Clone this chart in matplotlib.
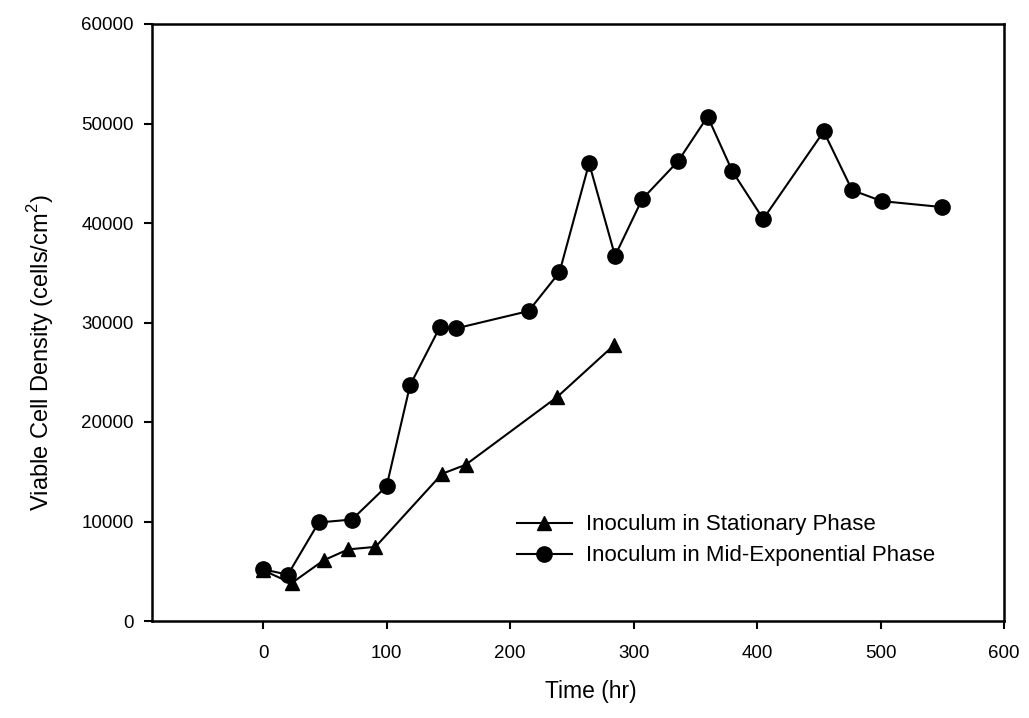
import matplotlib
matplotlib.use("Agg")
import matplotlib.pyplot as plt

plt.rcParams['font.family'] = ['Liberation Sans', 'DejaVu Sans']
plt.rcParams['mathtext.fontset'] = 'custom'
plt.rcParams['mathtext.rm'] = 'Liberation Sans'

# Stationary-phase inoculum
time_stationary = [0, 23, 49, 69, 91, 145, 164, 238, 284]
density_stationary = [5100, 3800, 6100, 7200, 7450, 14800, 15700, 22500, 27700]

# Mid-exponential-phase inoculum
time_midexp = [0, 20, 45, 72, 100, 119, 143, 156, 215, 240, 264, 285, 307,
               336, 360, 380, 405, 454, 477, 501, 550]
density_midexp = [5200, 4650, 9900, 10200, 13550, 23700, 29500, 29400, 31150,
                  35050, 46000, 36700, 42400, 46200, 50700, 45200, 40400,
                  49200, 43300, 42200, 41600]

x_ticks = [0, 100, 200, 300, 400, 500, 600]
y_ticks = [0, 10000, 20000, 30000, 40000, 50000, 60000]

fig = plt.figure(figsize=(10.29, 7.18), dpi=100)
ax = fig.add_axes([152/1029, 1 - 621/718, (1004 - 152)/1029, (621 - 24)/718])

ax.plot(time_stationary, density_stationary, color='black', lw=1.5,
        marker='^', ms=10.5, label='Inoculum in Stationary Phase', zorder=2)
ax.plot(time_midexp, density_midexp, color='black', lw=1.5,
        marker='o', ms=11, label='Inoculum in Mid-Exponential Phase', zorder=3)

ax.set_xlim(-90, 600)
ax.set_ylim(0, 60000)
ax.set_xticks(x_ticks)
ax.set_yticks(y_ticks)
ax.set_xticklabels([str(v) for v in x_ticks])
ax.set_yticklabels([str(v) for v in y_ticks])

for s in ax.spines.values():
    s.set_linewidth(1.8)
ax.tick_params(direction='out', length=6, width=1.5, labelsize=13.5)
ax.tick_params(axis='x', pad=11)
ax.tick_params(axis='y', pad=7)

ax.set_xlabel('Time (hr)', fontsize=16.5, labelpad=13)
ax.xaxis.set_label_coords(0.515, -0.098)
ax.set_ylabel('Viable Cell Density (cells/cm$^2$)', fontsize=17)
ax.yaxis.set_label_coords(-0.113, 0.45)

ax.legend(loc='center left', bbox_to_anchor=(0.428, 0.135), frameon=False,
          fontsize=16, handlelength=2.5, handletextpad=0.6, borderpad=0,
          borderaxespad=0, labelspacing=0.45, numpoints=1)

fig.savefig('out.png', dpi=100)
